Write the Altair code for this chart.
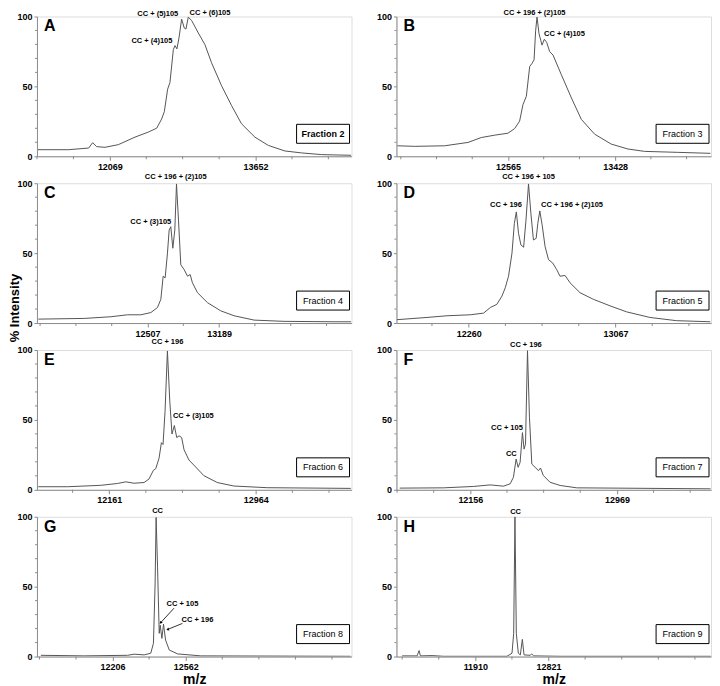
import altair as alt
import pandas as pd

FONT = "Liberation Sans"
LINE_COLOR = "#555555"
AXIS_COLOR = "#8c8c8c"
PANEL_W = 315
PANEL_H = 140

# ---------------- Panel A (Fraction 2) ----------------
A_MZ = [11288, 11621, 11839, 11882, 11926, 12016, 12161, 12342, 12487, 12578, 12632, 12661,
        12697, 12722, 12759, 12777, 12798, 12820, 12849, 12878, 12896, 12921, 12957, 13030,
        13102, 13174, 13283, 13392, 13500, 13645, 13790, 13971, 14152, 14369, 14690]
A_INT = [4.7, 4.7, 5.9, 9.7, 6.9, 6.4, 8.3, 13.7, 17.3, 20.1, 26.7, 31.9, 48, 52.7, 76.4,
         79.2, 76.8, 84.6, 98.1, 91.7, 91, 99.5, 97.2, 88.2, 79.9, 66.9, 50.4, 36.2, 23.2,
         13.7, 7.8, 3.8, 2.4, 1.2, 0.7]
A_DOMAIN = [11277, 14695]
A_XLABELS = [12069, 13652]
A_XSTEPS = 4
A_ANN_TEXT = ["CC + (4)105", "CC + (5)105", "CC + (6)105"]
A_ANN_MZ = [12526, 12590, 13157]
A_ANN_INT = [81, 100, 101]

# ---------------- Panel B (Fraction 3) ----------------
B_MZ = [11675, 11814, 12055, 12243, 12350, 12458, 12565, 12619, 12659, 12686, 12713, 12740,
        12759, 12775, 12788, 12799, 12815, 12829, 12839, 12858, 12877, 12901, 12928, 12995,
        13076, 13156, 13263, 13397, 13531, 13665, 13933, 14195]
B_INT = [7.5, 7.1, 7.5, 9.9, 13.4, 15.1, 16.5, 19.8, 25.2, 37, 42.9, 64.2, 66.5, 68.9, 90.1,
         99.5, 87.7, 83, 79.5, 83.7, 81.4, 74.8, 72.4, 58.3, 41.7, 26.4, 15.8, 8.7, 5.2, 3.5,
         2.8, 2.1]
B_DOMAIN = [11667, 14200]
B_XLABELS = [12565, 13428]
B_XSTEPS = 3
B_ANN_TEXT = ["CC + 196 + (2)105", "CC + (4)105"]
B_ANN_MZ = [12779, 13020]
B_ANN_INT = [101, 86]

# ---------------- Panel C (Fraction 4) ----------------
C_MZ = [11467, 11904, 12158, 12317, 12444, 12539, 12602, 12634, 12656, 12675, 12697, 12713,
        12729, 12748, 12767, 12783, 12802, 12824, 12856, 12888, 12913, 12935, 12983, 13078,
        13205, 13332, 13522, 13807, 14282, 14445]
C_INT = [2.8, 3.3, 4.5, 5.9, 5.9, 7.5, 11.1, 17, 33.5, 32.3, 50, 66.5, 68.9, 53.5, 66.5, 99.5,
         73.6, 41.7, 38.2, 33.5, 34.7, 28.8, 21.7, 14.6, 8.7, 5.2, 2.1, 1.2, 0.9, 0.9]
C_DOMAIN = [11454, 14450]
C_XLABELS = [12507, 13189]
C_XSTEPS = 2
C_ANN_TEXT = ["CC + 196 + (2)105", "CC + (3)105"]
C_ANN_MZ = [12776, 12538]
C_ANN_INT = [103, 71]

# ---------------- Panel D (Fraction 5) ----------------
D_MZ = [11866, 12031, 12141, 12269, 12342, 12379, 12415, 12443, 12461, 12479, 12498, 12511,
        12522, 12534, 12547, 12562, 12575, 12589, 12602, 12616, 12631, 12640, 12651, 12664,
        12680, 12699, 12722, 12744, 12762, 12790, 12817, 12872, 12945, 13037, 13128, 13256,
        13402, 13588]
D_INT = [2.4, 4, 5.2, 5.9, 7.1, 11.1, 13.4, 19.3, 25.2, 33.5, 50, 71.2, 79.5, 64.2, 55.9,
         54.2, 73.6, 99.5, 78.3, 59.4, 60.6, 71.2, 80.2, 70, 54.7, 45.3, 42.9, 38.2, 33.5,
         34, 28.8, 21.7, 17, 12.3, 8, 4, 1.7, 0.9]
D_DOMAIN = [11863, 13592]
D_XLABELS = [12260, 13067]
D_XSTEPS = 4
D_ANN_TEXT = ["CC + 196 + 105", "CC + 196", "CC + 196 + (2)105"]
D_ANN_MZ = [12589, 12465, 12828]
D_ANN_INT = [103, 83, 83]

# ---------------- Panel E (Fraction 6) ----------------
E_MZ = [11772, 11933, 12115, 12206, 12252, 12297, 12352, 12379, 12403, 12416, 12434, 12447,
        12456, 12467, 12480, 12493, 12505, 12518, 12531, 12544, 12558, 12571, 12598, 12635,
        12680, 12753, 12844, 13027, 13485]
E_INT = [2.2, 2.2, 3.2, 4.5, 5.7, 4.7, 5.2, 7.7, 13.9, 15.1, 22.5, 33.7, 32.4, 55.9, 99.3,
         63.4, 39.9, 46, 37.4, 38.6, 37.4, 28.7, 21.3, 16.3, 10.1, 5.2, 2.7, 1.5, 1]
E_DOMAIN = [11765, 13489]
E_XLABELS = [12161, 12964]
E_XSTEPS = 4
E_ANN_TEXT = ["CC + 196", "CC + (3)105"]
E_ANN_MZ = [12480, 12622]
E_ANN_INT = [104, 51]

# ---------------- Panel F (Fraction 7) ----------------
F_MZ = [11764, 12008, 12174, 12266, 12340, 12377, 12395, 12410, 12421, 12432, 12445, 12454,
        12462, 12473, 12484, 12497, 12515, 12534, 12545, 12561, 12598, 12654, 12746, 13488]
F_INT = [1.2, 1.4, 2.4, 3.5, 2.6, 4.3, 9, 22, 16.1, 19.6, 40.9, 29.1, 32.6, 99.5, 51.5, 18.4,
         16.1, 13.7, 15.6, 10.2, 5.4, 3.1, 1.4, 0.7]
F_DOMAIN = [11746, 13491]
F_XLABELS = [12156, 12969]
F_XSTEPS = 4
F_ANN_TEXT = ["CC + 196", "CC + 105", "CC"]
F_ANN_MZ = [12464, 12359, 12383]
F_ANN_INT = [102, 43, 24]

# ---------------- Panel G (Fraction 8) ----------------
G_MZ = [11857, 12068, 12279, 12311, 12360, 12392, 12405, 12413, 12418, 12425, 12433, 12438,
        12446, 12454, 12464, 12482, 12522, 12635, 13364]
G_INT = [0.9, 0.5, 0.9, 1.7, 1.2, 2.4, 9.5, 52, 99.5, 64, 16.6, 22.5, 13, 23.2, 11.8, 4.7,
         1.9, 0.5, 0.2]
G_DOMAIN = [11838, 13369]
G_XLABELS = [12206, 12562]
G_XSTEPS = 2
G_ANN_TEXT = ["CC", "CC + 105", "CC + 196"]
G_ANN_MZ = [12425, 12546, 12619]
G_ANN_INT = [103, 36, 25]
G_ARROW_FROM_MZ = [12505, 12546]
G_ARROW_FROM_INT = [34.6, 23.7]
G_ARROW_TO_MZ = [12440, 12474]
G_ARROW_TO_INT = [24.2, 19.4]
G_ARROW_ANGLE = [223, 248]

# ---------------- Panel H (Fraction 9) ----------------
H_MZ = [10999, 11185, 11210, 11226, 11371, 11516, 12303, 12366, 12387, 12403, 12420, 12445,
        12470, 12495, 12516, 12594, 12611, 12636, 12967, 14840]
H_INT = [0.5, 0.5, 4.3, 0.5, 0.7, 0.2, 0.2, 2.4, 16.5, 100, 16.5, 2.4, 1.2, 12.3, 1.2, 0.9,
         1.9, 0.5, 0.2, 0.2]
H_DOMAIN = [10928, 14843]
H_XLABELS = [11910, 12821]
H_XSTEPS = 2
H_ANN_TEXT = ["CC"]
H_ANN_MZ = [12411]
H_ANN_INT = [102]

Y_LABELS = [0, 50, 100]
Y_MINOR = [10, 20, 30, 40, 60, 70, 80, 90]

PANELS = [
    dict(letter="A", frac="Fraction 2", bold=True, mz=A_MZ, it=A_INT, dom=A_DOMAIN, lab=A_XLABELS,
         n=A_XSTEPS, at=A_ANN_TEXT, am=A_ANN_MZ, ai=A_ANN_INT),
    dict(letter="B", frac="Fraction 3", bold=False, mz=B_MZ, it=B_INT, dom=B_DOMAIN, lab=B_XLABELS,
         n=B_XSTEPS, at=B_ANN_TEXT, am=B_ANN_MZ, ai=B_ANN_INT),
    dict(letter="C", frac="Fraction 4", bold=False, mz=C_MZ, it=C_INT, dom=C_DOMAIN, lab=C_XLABELS,
         n=C_XSTEPS, at=C_ANN_TEXT, am=C_ANN_MZ, ai=C_ANN_INT),
    dict(letter="D", frac="Fraction 5", bold=False, mz=D_MZ, it=D_INT, dom=D_DOMAIN, lab=D_XLABELS,
         n=D_XSTEPS, at=D_ANN_TEXT, am=D_ANN_MZ, ai=D_ANN_INT),
    dict(letter="E", frac="Fraction 6", bold=False, mz=E_MZ, it=E_INT, dom=E_DOMAIN, lab=E_XLABELS,
         n=E_XSTEPS, at=E_ANN_TEXT, am=E_ANN_MZ, ai=E_ANN_INT),
    dict(letter="F", frac="Fraction 7", bold=False, mz=F_MZ, it=F_INT, dom=F_DOMAIN, lab=F_XLABELS,
         n=F_XSTEPS, at=F_ANN_TEXT, am=F_ANN_MZ, ai=F_ANN_INT),
    dict(letter="G", frac="Fraction 8", bold=False, mz=G_MZ, it=G_INT, dom=G_DOMAIN, lab=G_XLABELS,
         n=G_XSTEPS, at=G_ANN_TEXT, am=G_ANN_MZ, ai=G_ANN_INT),
    dict(letter="H", frac="Fraction 9", bold=False, mz=H_MZ, it=H_INT, dom=H_DOMAIN, lab=H_XLABELS,
         n=H_XSTEPS, at=H_ANN_TEXT, am=H_ANN_MZ, ai=H_ANN_INT),
]


def build_panel(i, p):
    W, H = PANEL_W, PANEL_H
    lo, hi = p["dom"]
    l1, l2 = p["lab"]
    step = (l2 - l1) / p["n"]
    k0 = 0
    while l1 - (k0 + 1) * step >= lo:
        k0 += 1
    minor = []
    k = -k0
    while l1 + k * step <= hi:
        v = l1 + k * step
        if k != 0 and k != p["n"]:
            minor.append(round(v, 2))
        k += 1

    is_bottom = i >= 6
    xaxis_kw = dict(values=[l1, l2], format="d", grid=False, domainColor=AXIS_COLOR,
                    tickColor=AXIS_COLOR, tickSize=4, labelFont=FONT, labelFontWeight="bold",
                    labelFontSize=9, labelColor="black", labelPadding=2, labelOverlap=False,
                    labelFlush=False)
    if is_bottom:
        xaxis = alt.Axis(title="m/z", titleFont=FONT, titleFontSize=14, titleFontWeight="bold",
                         titlePadding=1, titleColor="black", **xaxis_kw)
    else:
        xaxis = alt.Axis(title=None, **xaxis_kw)
    yaxis = alt.Axis(values=Y_LABELS, title=None, grid=False, domainColor=AXIS_COLOR,
                     tickColor=AXIS_COLOR, tickSize=3, labelFont=FONT, labelFontWeight="bold",
                     labelFontSize=9, labelColor="black", labelPadding=2, labelOverlap=False,
                     labelFlush=False)

    df = pd.DataFrame({"mz": p["mz"], "I": p["it"]})
    xs = alt.Scale(domain=[lo, hi], nice=False, zero=False)
    ys = alt.Scale(domain=[0, 100], nice=False)
    line = alt.Chart(df).mark_line(color=LINE_COLOR, strokeWidth=1, clip=True).encode(
        x=alt.X("mz:Q", scale=xs, axis=xaxis),
        y=alt.Y("I:Q", scale=ys, axis=yaxis),
    )
    xminor = alt.Chart(pd.DataFrame({"mz": minor})).mark_rule(
        color=AXIS_COLOR, strokeWidth=1).encode(
        x="mz:Q", y=alt.value(H), y2=alt.value(H + 3))
    yminor = alt.Chart(pd.DataFrame({"I": Y_MINOR})).mark_rule(
        color=AXIS_COLOR, strokeWidth=1).encode(
        y="I:Q", x=alt.value(-2), x2=alt.value(0))
    ann_df = pd.DataFrame({"mz": p["am"], "I": p["ai"], "t": p["at"]})
    ann = alt.Chart(ann_df).mark_text(font=FONT, fontSize=7.5, fontWeight="bold",
                                      baseline="alphabetic", align="center", color="black").encode(
        x="mz:Q", y="I:Q", text="t:N")
    letter = alt.Chart(pd.DataFrame({"t": [p["letter"]]})).mark_text(
        font=FONT, fontSize=16, fontWeight="bold", align="left", baseline="alphabetic",
        color="black").encode(x=alt.value(7), y=alt.value(15), text="t:N")
    box = alt.Chart(pd.DataFrame({"t": [p["frac"]]})).mark_rect(
        fill="white", stroke="black", strokeWidth=1).encode(
        x=alt.value(260), x2=alt.value(313), y=alt.value(H - 32), y2=alt.value(H - 13))
    boxtext = alt.Chart(pd.DataFrame({"t": [p["frac"]]})).mark_text(
        font=FONT, fontSize=9, fontWeight="bold" if p["bold"] else "normal", align="center",
        baseline="middle", color="black").encode(
        x=alt.value(286.5), y=alt.value(H - 22.5), text="t:N")
    layers = [line, xminor, yminor, ann, letter, box, boxtext]
    if p["letter"] == "G":
        arr = pd.DataFrame({"x1": G_ARROW_FROM_MZ, "y1": G_ARROW_FROM_INT,
                            "x2": G_ARROW_TO_MZ, "y2": G_ARROW_TO_INT, "ang": G_ARROW_ANGLE})
        rule = alt.Chart(arr).mark_rule(color="black", strokeWidth=0.8).encode(
            x="x1:Q", y="y1:Q", x2="x2:Q", y2="y2:Q")
        head = alt.Chart(arr).mark_point(shape="triangle-up", filled=True, color="black",
                                         size=10, opacity=1).encode(
            x="x2:Q", y="y2:Q", angle=alt.Angle("ang:Q", scale=None))
        layers += [rule, head]
    if p["letter"] == "C":
        ylab = alt.Chart(pd.DataFrame({"t": ["% Intensity"]})).mark_text(
            font=FONT, fontSize=13, fontWeight="bold", angle=270, align="center",
            baseline="middle", color="black").encode(
            x=alt.value(-22), y=alt.value(125), text="t:N")
        layers.append(ylab)
    return alt.layer(*layers).properties(width=W, height=H)


charts = [build_panel(i, p) for i, p in enumerate(PANELS)]

chart = alt.concat(*charts, columns=2, spacing={"row": 27, "column": 45}, bounds="flush").properties(
    padding=0
).configure_view(stroke=None).configure(font=FONT)

chart.save("out.html", embed_options={"renderer": "svg", "actions": False})
